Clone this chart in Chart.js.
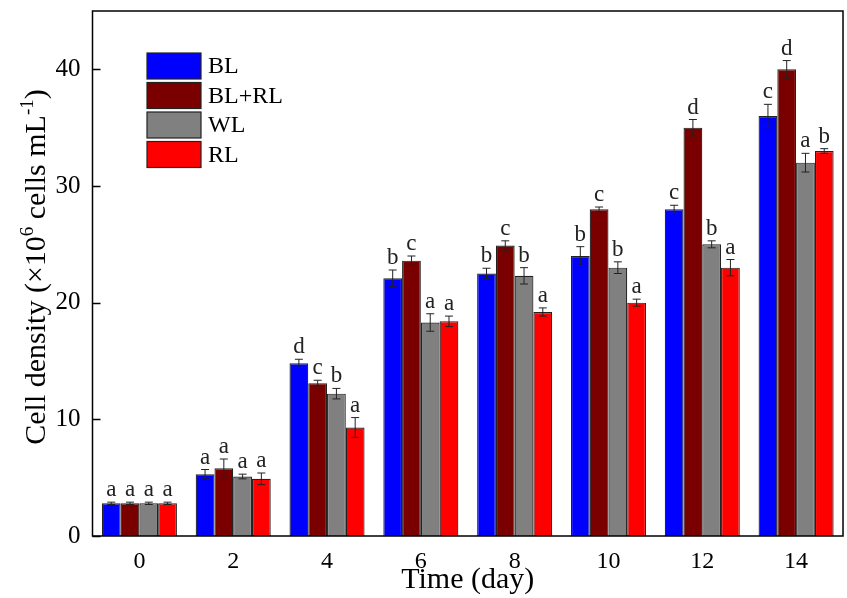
<!DOCTYPE html>
<html>
<head>
<meta charset="utf-8">
<script src="https://cdn.jsdelivr.net/npm/chart.js@4/dist/chart.umd.min.js"></script>
<style>
  body { margin: 0; background: #fff; }
  #wrap { width: 847px; height: 598px; }
</style>
</head>
<body>
<div id="wrap"><canvas id="chart"></canvas></div>
<script>
const days = ["0", "2", "4", "6", "8", "10", "12", "14"];
const seriesNames = ["BL", "BL+RL", "WL", "RL"];

const BL = [2.8, 5.3, 14.8, 22.1, 22.5, 24.0, 28.0, 36.0];
const BLRL = [2.8, 5.8, 13.1, 23.6, 24.9, 28.0, 35.0, 40.0];
const WL = [2.8, 5.1, 12.2, 18.3, 22.3, 23.0, 25.0, 32.0];
const RL = [2.8, 4.9, 9.3, 18.4, 19.2, 20.0, 23.0, 33.0];

const BL_err = [0.1, 0.4, 0.35, 0.7, 0.45, 0.8, 0.35, 1.0];
const BLRL_err = [0.1, 0.8, 0.25, 0.4, 0.4, 0.2, 0.7, 0.75];
const WL_err = [0.1, 0.2, 0.45, 0.75, 0.7, 0.5, 0.3, 0.8];
const RL_err = [0.1, 0.5, 0.85, 0.45, 0.35, 0.3, 0.7, 0.2];

const BL_sig = ["a", "a", "d", "b", "b", "b", "c", "c"];
const BLRL_sig = ["a", "a", "c", "c", "c", "c", "d", "d"];
const WL_sig = ["a", "a", "b", "a", "b", "b", "b", "a"];
const RL_sig = ["a", "a", "a", "a", "a", "a", "a", "b"];

const colors = ["#0000ff", "#7a0000", "#808080", "#ff0000"];
const yTicks = [0, 10, 20, 30, 40];

const values = [BL, BLRL, WL, RL];
const errors = [BL_err, BLRL_err, WL_err, RL_err];
const letters = [BL_sig, BLRL_sig, WL_sig, RL_sig];

const serif = "'Liberation Serif', 'Times New Roman', serif";

// error bars + significance letters
const errorBars = {
  id: "errorBars",
  afterDatasetsDraw(chart) {
    const ctx = chart.ctx;
    const y = chart.scales.y;
    ctx.save();
    chart.data.datasets.forEach((ds, d) => {
      const meta = chart.getDatasetMeta(d);
      meta.data.forEach((bar, i) => {
        const v = values[d][i];
        const e = errors[d][i];
        const top = y.getPixelForValue(v + e);
        const bot = y.getPixelForValue(v - e);
        const x = bar.x;
        ctx.strokeStyle = "#222";
        ctx.lineWidth = 1;
        ctx.beginPath();
        ctx.moveTo(x, top);
        ctx.lineTo(x, bot);
        ctx.moveTo(x - 4, top);
        ctx.lineTo(x + 4, top);
        ctx.moveTo(x - 4, bot);
        ctx.lineTo(x + 4, bot);
        ctx.stroke();
        ctx.fillStyle = "#222";
        ctx.font = "23px " + serif;
        ctx.textAlign = "center";
        ctx.textBaseline = "alphabetic";
        ctx.fillText(letters[d][i], x, top - 6);
      });
    });
    ctx.restore();
  }
};

// frame, inward ticks, legend, y title
const decor = {
  id: "decor",
  afterDraw(chart) {
    const ctx = chart.ctx;
    const a = chart.chartArea;
    const y = chart.scales.y;
    ctx.save();
    ctx.strokeStyle = "#000";
    ctx.lineWidth = 1.5;
    ctx.strokeRect(a.left, a.top, a.right - a.left, a.bottom - a.top);
    ctx.beginPath();
    yTicks.forEach(t => {
      const py = Math.round(y.getPixelForValue(t)) + 0.5;
      ctx.moveTo(a.left, py);
      ctx.lineTo(a.left + 8, py);
    });
    ctx.stroke();

    // legend
    ctx.font = "24px " + serif;
    ctx.textAlign = "left";
    ctx.textBaseline = "middle";
    seriesNames.forEach((name, k) => {
      const by = 53 + k * 29.5;
      ctx.fillStyle = colors[k];
      ctx.fillRect(147, by, 54, 26);
      ctx.strokeStyle = "#222";
      ctx.lineWidth = 1.2;
      ctx.strokeRect(147, by, 54, 26);
      ctx.fillStyle = "#000";
      ctx.fillText(name, 208, by + 14);
    });

    // y axis title with superscripts
    const parts = [
      ["Cell density (\u00d710", false],
      ["6", true],
      [" cells mL", false],
      ["-1", true],
      [")", false]
    ];
    const big = "30px " + serif;
    const small = "19px " + serif;
    let total = 0;
    parts.forEach(p => {
      ctx.font = p[1] ? small : big;
      total += ctx.measureText(p[0]).width;
    });
    ctx.translate(45, 267);
    ctx.rotate(-Math.PI / 2);
    ctx.fillStyle = "#000";
    ctx.textBaseline = "alphabetic";
    let x = -total / 2;
    parts.forEach(p => {
      ctx.font = p[1] ? small : big;
      ctx.fillText(p[0], x, p[1] ? -12 : 0);
      x += ctx.measureText(p[0]).width;
    });
    ctx.restore();
  }
};

const ctx = document.querySelector("#chart").getContext("2d");

new Chart(ctx, {
  type: "bar",
  data: {
    labels: days,
    datasets: seriesNames.map((name, k) => ({
      label: name,
      data: values[k],
      backgroundColor: colors[k],
      borderColor: "#222",
      borderWidth: 1.2,
      categoryPercentage: 0.8,
      barPercentage: 1.0
    }))
  },
  options: {
    responsive: true,
    maintainAspectRatio: false,
    animation: false,
    layout: { padding: { top: 11, right: 4, left: 0, bottom: 0 } },
    plugins: {
      legend: { display: false },
      tooltip: { enabled: false }
    },
    scales: {
      x: {
        offset: true,
        grid: { display: false, drawTicks: false },
        border: { display: false },
        ticks: {
          color: "#000",
          padding: 11,
          font: { family: serif, size: 24 }
        },
        title: {
          display: true,
          text: "Time (day)",
          color: "#000",
          padding: { top: -4, bottom: 0 },
          font: { family: serif, size: 30 }
        },
        afterFit(scale) {
          scale.height = 62;
          scale.paddingLeft = 0;
          scale.paddingRight = 0;
        }
      },
      y: {
        min: 0,
        max: 45,
        afterBuildTicks(scale) {
          scale.ticks = yTicks.map(v => ({ value: v }));
        },
        grid: { display: false, drawTicks: false },
        border: { display: false },
        ticks: {
          color: "#000",
          padding: 12,
          font: { family: serif, size: 25 }
        },
        afterFit(scale) {
          scale.width = 92.5;
          scale.paddingTop = 0;
          scale.paddingBottom = 0;
        }
      }
    }
  },
  plugins: [errorBars, decor]
});
</script>
</body>
</html>
